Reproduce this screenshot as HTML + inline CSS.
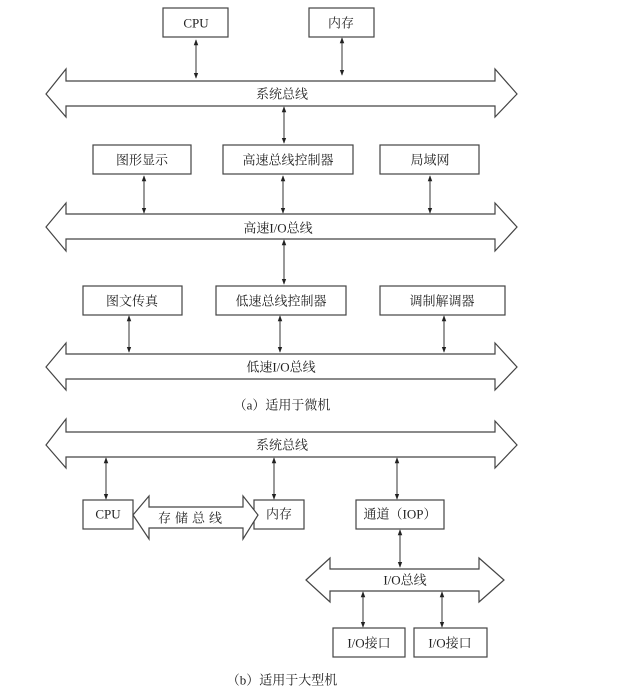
<!DOCTYPE html>
<html><head><meta charset="utf-8"><style>
html,body{margin:0;padding:0;background:#fff;}
svg{display:block;}
text{font-family:"Liberation Serif","Noto Serif CJK SC",serif;font-size:13px;fill:#222;text-anchor:middle;dominant-baseline:central;}
.b{fill:#fff;stroke:#444;stroke-width:1.2;}
.l{stroke:#333;stroke-width:1;}
</style></head><body>
<svg width="621" height="700" viewBox="0 0 621 700" xmlns="http://www.w3.org/2000/svg">
<defs>
<marker id="a" viewBox="0 0 8 8" refX="7" refY="4" markerWidth="6" markerHeight="6" orient="auto-start-reverse"><path d="M0,1 L8,4 L0,7 z" fill="#222"/></marker>
</defs>
<g class="b">
<!-- (a) -->
<rect x="163" y="8" width="65" height="29"/>
<rect x="309" y="8" width="65" height="29"/>
<polygon points="46,94 66,69 66,81 495,81 495,69 517,94 495,117 495,106 66,106 66,117"/>
<rect x="93" y="145" width="98" height="29"/>
<rect x="223" y="145" width="130" height="29"/>
<rect x="380" y="145" width="99" height="29"/>
<polygon points="46,227 66,203 66,214 495,214 495,203 517,227 495,251 495,239 66,239 66,251"/>
<rect x="83" y="286" width="99" height="29"/>
<rect x="216" y="286" width="130" height="29"/>
<rect x="380" y="286" width="125" height="29"/>
<polygon points="46,367 66,343 66,354 495,354 495,343 517,367 495,390 495,379 66,379 66,390"/>
<!-- (b) -->
<polygon points="46,445 66,419 66,432 495,432 495,421 517,445 495,468 495,457 66,457 66,468"/>
<rect x="83" y="500" width="50" height="29"/>
<rect x="254" y="500" width="50" height="29"/>
<rect x="356" y="500" width="88" height="29"/>
<polygon points="133,515 149,496 149,507 243,507 243,496 258,515 243,539 243,528 149,528 149,539"/>
<polygon points="306,580 330,558 330,569 479,569 479,558 504,580 479,602 479,591 330,591 330,602"/>
<rect x="333" y="628" width="72" height="29"/>
<rect x="414" y="628" width="73" height="29"/>
</g>
<g class="l" marker-start="url(#a)" marker-end="url(#a)">
<line x1="196" y1="40" x2="196" y2="78"/>
<line x1="342" y1="38" x2="342" y2="75"/>
<line x1="284" y1="107" x2="284" y2="143"/>
<line x1="144" y1="176" x2="144" y2="213"/>
<line x1="283" y1="176" x2="283" y2="213"/>
<line x1="430" y1="176" x2="430" y2="213"/>
<line x1="284" y1="240" x2="284" y2="284"/>
<line x1="129" y1="316" x2="129" y2="352"/>
<line x1="280" y1="316" x2="280" y2="352"/>
<line x1="444" y1="316" x2="444" y2="352"/>
<line x1="106" y1="458" x2="106" y2="499"/>
<line x1="274" y1="458" x2="274" y2="499"/>
<line x1="397" y1="458" x2="397" y2="499"/>
<line x1="400" y1="530" x2="400" y2="567"/>
<line x1="363" y1="592" x2="363" y2="627"/>
<line x1="442" y1="592" x2="442" y2="627"/>
</g>
<text x="196" y="23">CPU</text>
<text x="341" y="23">内存</text>
<text x="282" y="94">系统总线</text>
<text x="142" y="160">图形显示</text>
<text x="288" y="160">高速总线控制器</text>
<text x="430" y="160">局域网</text>
<text x="278" y="228">高速I/O总线</text>
<text x="132" y="301">图文传真</text>
<text x="281" y="301">低速总线控制器</text>
<text x="442" y="301">调制解调器</text>
<text x="281" y="367">低速I/O总线</text>
<text x="282" y="405">（a）适用于微机</text>
<text x="282" y="445">系统总线</text>
<text x="108" y="514">CPU</text>
<text x="279" y="514">内存</text>
<text x="400" y="514">通道（IOP）</text>
<text x="192" y="518" style="letter-spacing:4px">存储总线</text>
<text x="405" y="580">I/O总线</text>
<text x="369" y="643">I/O接口</text>
<text x="450" y="643">I/O接口</text>
<text x="282" y="680">（b）适用于大型机</text>
</svg>
</body></html>
